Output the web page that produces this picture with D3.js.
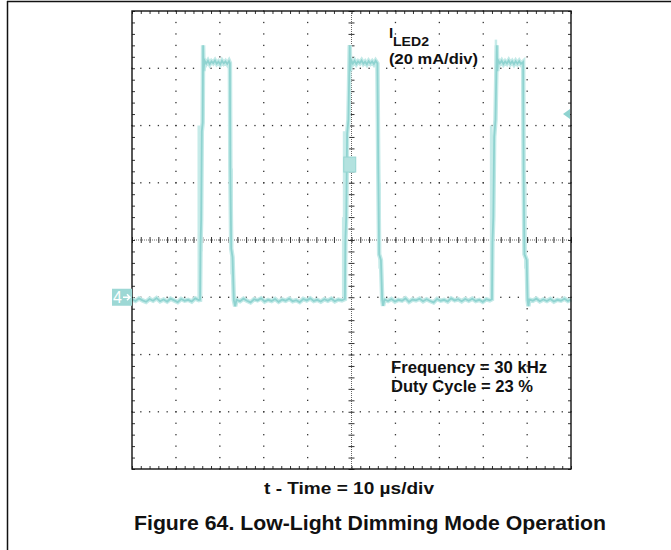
<!DOCTYPE html>
<meta charset="utf-8">
<script src="https://cdn.jsdelivr.net/npm/d3@7"></script>
<style>
  body { margin: 0; background: #fff; }
  text { font-family: "Liberation Sans", Arial, sans-serif; font-weight: bold; fill: #111; }
</style>
<div id="scope"></div>
<script>
// scope screen: 10 div across (10 us/div), 8 div high (20 mA/div)
var tDomain = [0, 100];      // us
var iDomain = [-60, 100];    // mA
var xMajor = d3.range(0, 101, 10);
var yMajor = d3.range(-60, 101, 20);
var xMinor = d3.range(0, 100.01, 2);
var yMinor = d3.range(-60, 100.01, 4);

// ILED2 trace, [t us, I mA]
var trace = [
  [0.0,-0.7],[0.8,-1.3],[1.6,-0.4],[2.4,-1.1],[3.2,-1.6],[4.0,-0.6],[4.8,-1.2],[5.6,-0.3],[6.4,-1.4],[7.2,-0.8],
  [8.0,-1.5],[8.8,-0.5],[9.6,-1.1],[10.4,-1.7],[11.2,-0.6],[12.0,-1.2],[12.8,-0.9],[13.6,-1.5],[14.4,-0.4],[15.2,-1.0],
  [15.5,-0.9],[15.6,18],[15.75,27],[15.9,58],[16.1,61],[16.2,88],[16.3,79],[16.5,82.8],
  [16.9,81.6],[17.3,82.6],[17.7,81.4],[18.1,82.4],[18.5,81.8],[18.9,82.7],[19.3,81.6],[19.7,82.3],[20.1,81.4],
  [20.5,82.6],[20.9,81.7],[21.3,82.4],[21.7,81.5],[22.1,82.5],[22.3,81.8],
  [22.4,45],[22.6,17],[22.9,14],[23.2,-1],[23.5,-3.2],[23.8,-0.9],
  [24.6,-1.4],[25.4,-0.5],[26.2,-1.2],[27.0,-1.8],[27.8,-0.7],[28.6,-1.1],[29.4,-0.4],[30.2,-1.5],[31.0,-0.9],
  [31.8,-1.3],[32.6,-0.6],[33.4,-1.6],[34.2,-0.8],[35.0,-1.2],[35.8,-0.5],[36.6,-1.4],[37.4,-1.0],[38.2,-1.7],
  [39.0,-0.6],[39.8,-1.1],[40.6,-0.4],[41.4,-1.3],[42.2,-0.9],[43.0,-1.5],[43.8,-0.7],[44.6,-1.2],[45.4,-0.5],
  [46.2,-1.4],[47.0,-0.8],[47.8,-1.1],[48.5,-0.6],
  [48.6,20],[48.8,28],[49.0,57],[49.3,62],[49.6,88],[49.7,79],[49.9,82.9],
  [50.3,81.6],[50.7,82.6],[51.1,81.5],[51.5,82.4],[51.9,81.8],[52.3,82.7],[52.7,81.6],[53.1,82.3],[53.5,81.4],
  [53.9,82.5],[54.3,81.7],[54.7,82.4],[55.1,81.5],[55.5,82.6],[55.9,81.7],
  [56.1,45],[56.3,15],[56.7,13],[57.0,-1],[57.2,-3.0],[57.5,-0.8],
  [58.3,-1.3],[59.1,-0.6],[59.9,-1.5],[60.7,-0.9],[61.5,-1.2],[62.3,-0.4],[63.1,-1.6],[63.9,-0.8],[64.7,-1.1],
  [65.5,-0.5],[66.3,-1.4],[67.1,-0.7],[67.9,-1.3],[68.7,-1.8],[69.5,-0.6],[70.3,-1.2],[71.1,-0.9],[71.9,-1.5],
  [72.7,-0.4],[73.5,-1.1],[74.3,-0.7],[75.1,-1.4],[75.9,-0.6],[76.7,-1.2],[77.5,-0.5],[78.3,-1.3],[79.1,-0.9],
  [79.9,-1.6],[80.7,-0.7],[81.5,-1.1],[82.0,-0.7],
  [82.1,19],[82.3,28],[82.5,56],[82.8,62],[83.1,88],[83.2,79],[83.4,82.8],
  [83.8,81.7],[84.2,82.6],[84.6,81.5],[85.0,82.4],[85.4,81.7],[85.8,82.7],[86.2,81.6],[86.6,82.4],[87.0,81.4],
  [87.4,82.5],[87.8,81.6],[88.2,82.5],[88.6,81.5],[89.1,82.2],
  [89.2,45],[89.4,15],[89.9,13],[90.1,-1],[90.3,-3.1],[90.5,-0.8],
  [91.3,-1.2],[92.1,-0.5],[92.9,-1.4],[93.7,-0.8],[94.5,-1.3],[95.3,-0.6],[96.1,-1.5],[96.9,-0.9],[97.7,-1.2],
  [98.5,-0.5],[99.3,-1.3],[100,-0.8]
];

// faint persistence strokes at the edges
var ghost = [
  [[15.2, 0], [15.2, 60]],
  [[15.8, 28], [15.8, 16]],
  [[48.1, 0], [48.1, 28]],
  [[48.3, 0], [48.3, 58]],
  [[81.8, 0], [81.8, 60]],
  [[82.9, 90], [82.9, 70]],
  [[22.7, 45], [22.7, 8]],
  [[56.4, 40], [56.4, 10]],
  [[89.6, 40], [89.6, 10]]
];

var triggerLevel = 64;   // mA, arrow on right edge
var groundLevel = 0;     // mA, channel 4 marker
var triggerTime = 49.6;  // us

var W = 671, H = 550;
var svg = d3.select("#scope").append("svg")
    .attr("width", W)
    .attr("height", H)

var x = d3.scaleLinear().domain(tDomain).range([132, 571])
var y = d3.scaleLinear().domain(iDomain).range([469, 11])

// page frame (top + left rule)
svg.append("line").attr("x1", 7).attr("y1", 1.5).attr("x2", W).attr("y2", 1.5)
    .attr("stroke", "#111").attr("stroke-width", 1.5)
svg.append("line").attr("x1", 7.5).attr("y1", 1).attr("x2", 7.5).attr("y2", H)
    .attr("stroke", "#111").attr("stroke-width", 1.5)

/**
 * dotted graticule: dots on each major line at every minor step
 */
var grid = svg.append("g").attr("fill", "#333")
xMajor.slice(1, -1).filter(d => d !== 50).forEach(function(t) {
    grid.selectAll(null).data(yMinor).enter().append("rect")
        .attr("x", x(t) - 0.6).attr("y", d => y(d) - 0.6)
        .attr("width", 1.3).attr("height", 1.3)
})
yMajor.slice(1, -1).filter(d => d !== 20).forEach(function(v) {
    grid.selectAll(null).data(xMinor).enter().append("rect")
        .attr("x", d => x(d) - 0.6).attr("y", y(v) - 0.6)
        .attr("width", 1.3).attr("height", 1.3)
})

// center cross lines
svg.append("line")
    .attr("x1", x(50)).attr("x2", x(50)).attr("y1", y(100)).attr("y2", y(-60))
    .attr("stroke", "#666").attr("stroke-width", 1).style("stroke-dasharray", "1, 1")
svg.append("line")
    .attr("x1", x(0)).attr("x2", x(100)).attr("y1", y(20)).attr("y2", y(20))
    .attr("stroke", "#666").attr("stroke-width", 1).style("stroke-dasharray", "1, 1")

function ticks(g) {
    g.select(".domain").remove()
    g.selectAll("line").attr("stroke", "#333")
}

svg.append("g")
    .attr("transform", "translate(0," + (y(20) - 3) + ")")
    .call(d3.axisBottom(x).tickValues(xMinor).tickSize(6).tickFormat(""))
    .call(ticks)
svg.append("g")
    .attr("transform", "translate(" + (x(50) - 3) + ",0)")
    .call(d3.axisRight(y).tickValues(yMinor).tickSize(6).tickFormat(""))
    .call(ticks)

// edge ticks, pointing inward
svg.append("g").attr("transform", "translate(0," + y(100) + ")")
    .call(d3.axisBottom(x).tickValues(xMinor).tickSize(3).tickFormat("")).call(ticks)
svg.append("g").attr("transform", "translate(0," + y(-60) + ")")
    .call(d3.axisTop(x).tickValues(xMinor).tickSize(3).tickFormat("")).call(ticks)
svg.append("g").attr("transform", "translate(" + x(0) + ",0)")
    .call(d3.axisRight(y).tickValues(yMinor).tickSize(3).tickFormat("")).call(ticks)
svg.append("g").attr("transform", "translate(" + x(100) + ",0)")
    .call(d3.axisLeft(y).tickValues(yMinor).tickSize(3).tickFormat("")).call(ticks)

/**
 * traces
 */
var line = d3.line().x(d => x(d[0])).y(d => y(d[1]))

ghost.forEach(function(seg) {
    svg.append("path").attr("d", line(seg))
        .attr("fill", "none").attr("stroke", "#c6ebe9").attr("stroke-width", 2.5)
})

svg.append("path").datum(trace).attr("d", line)
    .attr("fill", "none").attr("stroke", "#c4eae8").attr("stroke-width", 4.5)
svg.append("path").datum(trace).attr("d", line)
    .attr("fill", "none").attr("stroke", "#8fd3d0").attr("stroke-width", 1.8)

// trigger position box
svg.append("rect")
    .attr("x", x(triggerTime) - 6).attr("y", y(triggerLevel) + 43)
    .attr("width", 12).attr("height", 15)
    .attr("fill", "#b3e2df").attr("stroke", "#95d5d2")

// plot border
svg.append("rect")
    .attr("x", x(0)).attr("y", y(100))
    .attr("width", x(100) - x(0)).attr("height", y(-60) - y(100))
    .attr("fill", "none").attr("stroke", "#111").attr("stroke-width", 1.4)

// channel 4 ground marker
var gy = y(groundLevel)
svg.append("rect").attr("x", x(0) - 20).attr("y", gy - 8.5).attr("width", 20).attr("height", 17)
    .attr("fill", "#9dd8d5")
svg.append("text").attr("x", x(0) - 19).attr("y", gy + 6)
    .style("fill", "#fff").style("font-weight", "normal").style("font-size", "16px").text("4")
svg.append("path")
    .attr("d", "M" + (x(0) - 9) + "," + gy + "H" + (x(0) - 2) + "M" + (x(0) - 5) + "," + (gy - 3) + "L" + (x(0) - 2) + "," + gy + "L" + (x(0) - 5) + "," + (gy + 3))
    .attr("stroke", "#fff").attr("stroke-width", 1.5).attr("fill", "none")

// trigger level arrow
var ty = y(triggerLevel)
svg.append("path")
    .attr("d", "M" + (x(100) - 8) + "," + ty + "L" + (x(100) - 1) + "," + (ty - 5) + "L" + (x(100) - 1) + "," + (ty + 5) + "Z")
    .attr("fill", "#8fd3d0")

/**
 * labels
 */
function label(txt, px, py, size, len) {
    var t = svg.append("text").attr("x", px).attr("y", py)
        .style("font-size", size + "px").text(txt)
    if (len) t.attr("textLength", len).attr("lengthAdjust", "spacingAndGlyphs")
    return t
}

label("I", 389, 38, 15)
label("LED2", 393, 45.5, 12, 36)
label("(20 mA/div)", 389, 64, 15, 89)
label("Frequency = 30 kHz", 391, 373, 16, 156)
label("Duty Cycle = 23 %", 391, 392, 16, 142)
label("t - Time = 10 µs/div", 264, 494, 16, 170)
label("Figure 64. Low-Light Dimming Mode Operation", 134, 530, 20, 472)
</script>
